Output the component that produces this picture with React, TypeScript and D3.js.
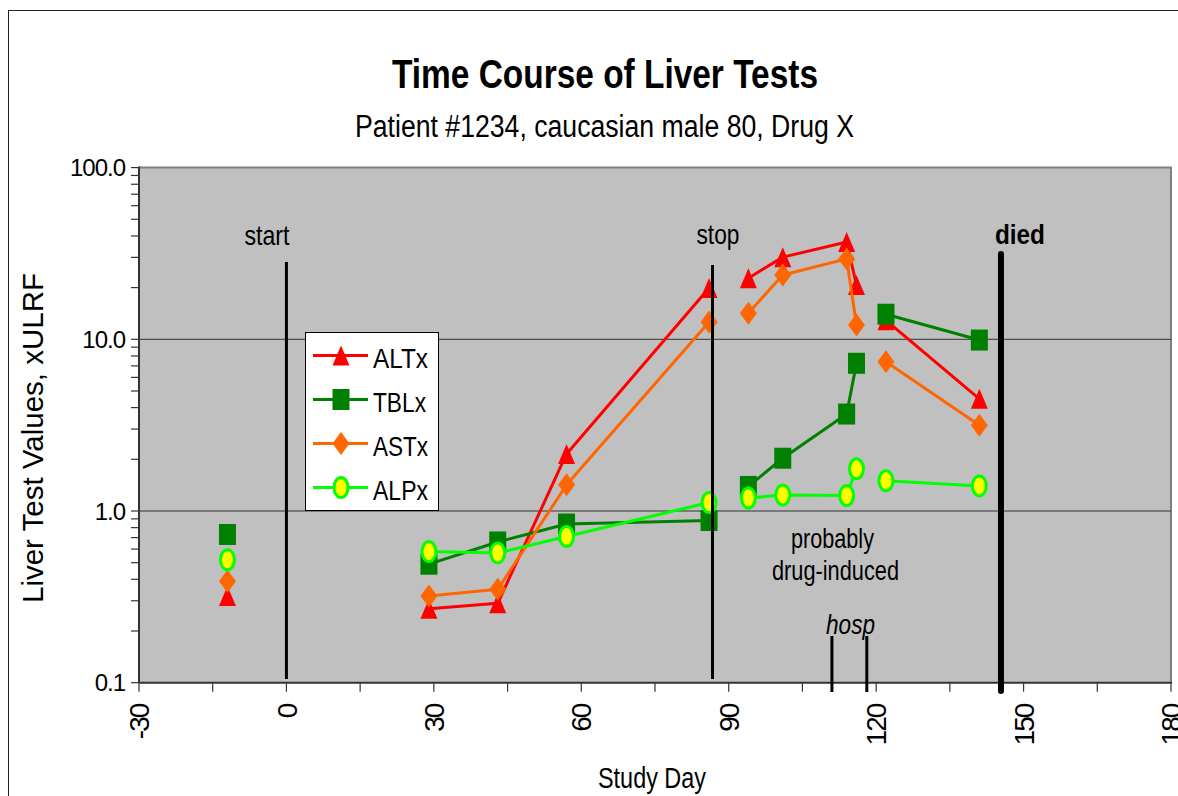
import { useEffect, useRef } from 'react';
import * as d3 from 'd3';

// study days of each blood draw, and which connected run of visits it belongs to
const studyDays = [-12, 29, 43, 57, 86, 94, 101, 114, 116, 122, 141];
const visitRuns = [0, 1, 1, 1, 1, 2, 2, 2, 2, 3, 3];

// values in multiples of the upper limit of the reference range
const altValues = [0.32, 0.27, 0.29, 2.15, 19.9, 22.7, 30.1, 36.9, 20.7, 12.9, 4.5];
const tblValues = [0.73, 0.49, 0.66, 0.84, 0.88, 1.39, 2.03, 3.67, 7.25, 14.0, 9.9];
const astValues = [0.39, 0.32, 0.35, 1.42, 12.6, 14.2, 23.7, 29.4, 12.1, 7.4, 3.16];
const alpValues = [0.52, 0.58, 0.57, 0.71, 1.12, 1.19, 1.24, 1.23, 1.76, 1.5, 1.4];

const seriesNames = ['ALTx', 'TBLx', 'ASTx', 'ALPx'];
const seriesValues = [altValues, tblValues, astValues, alpValues];

const eventNames = ['start', 'stop', 'died'];
const eventDays = [0, 86.7, 145.4];
const hospDays = [111, 118.1];

const xTickValues = [-30, 0, 30, 60, 90, 120, 150, 180];
const yTickValues = [0.1, 1, 10, 100];

const FONT = '"Liberation Sans", Arial, sans-serif';

const styles = [
  { color: '#ff0000', fill: '#ff0000', marker: 'triangle' },
  { color: '#008000', fill: '#008000', marker: 'square' },
  { color: '#ff6600', fill: '#ff6600', marker: 'diamond' },
  { color: '#00ff00', fill: '#ffff00', marker: 'ellipse' },
];

type G = d3.Selection<SVGGElement, unknown, null, undefined>;

function drawMarker(g: G, kind: string, cx: number, cy: number, color: string, fill: string) {
  if (kind === 'triangle') {
    g.append('path')
      .attr('d', `M${cx},${cy - 10}L${cx + 8.5},${cy + 10}L${cx - 8.5},${cy + 10}Z`)
      .attr('fill', fill);
  } else if (kind === 'square') {
    g.append('rect')
      .attr('x', cx - 8.5)
      .attr('y', cy - 10.5)
      .attr('width', 17)
      .attr('height', 21)
      .attr('fill', fill);
  } else if (kind === 'diamond') {
    g.append('path')
      .attr('d', `M${cx},${cy - 11.5}L${cx + 8.5},${cy}L${cx},${cy + 11.5}L${cx - 8.5},${cy}Z`)
      .attr('fill', fill);
  } else {
    g.append('ellipse')
      .attr('cx', cx)
      .attr('cy', cy)
      .attr('rx', 7)
      .attr('ry', 10)
      .attr('fill', fill)
      .attr('stroke', color)
      .attr('stroke-width', 3);
  }
}

function App() {
  const svgRef = useRef<SVGSVGElement | null>(null);
  const width = 1178;
  const height = 796;
  const margin = { top: 167.6, right: 7, bottom: 113.3, left: 139 };

  useEffect(() => {
    document.body.style.margin = '0';
    const svg = d3.select(svgRef.current);
    svg.selectAll('*').remove();

    const x = d3.scaleLinear().domain([-30, 180]).range([margin.left, width - margin.right]);
    const y = d3.scaleLog().domain([0.1, 100]).range([height - margin.bottom, margin.top]);
    const [x0, x1] = x.range();
    const [yb, yt] = y.range();

    // outer frame
    svg.append('rect')
      .attr('x', 8.5).attr('y', 10.5).attr('width', 1200).attr('height', 820)
      .attr('fill', '#fff').attr('stroke', '#222').attr('stroke-width', 1);

    // plot area
    svg.append('rect')
      .attr('x', x0).attr('y', yt).attr('width', x1 - x0).attr('height', yb - yt)
      .attr('fill', '#c0c0c0');
    svg.append('path')
      .attr('d', `M${x0},${yt}H${x1}V${yb}`)
      .attr('fill', 'none').attr('stroke', '#808080').attr('stroke-width', 2);

    // gridlines
    svg.append('g')
      .selectAll('line')
      .data(yTickValues.filter((v) => v > 0.1 && v < 100))
      .enter()
      .append('line')
      .attr('x1', x0).attr('x2', x1)
      .attr('y1', (v) => y(v)).attr('y2', (v) => y(v))
      .attr('stroke', '#333').attr('stroke-width', 1);

    // y axis
    const yAxis = svg.append('g').attr('transform', `translate(${x0},0)`);
    const minor = d3.range(-1, 2).flatMap((e) => d3.range(1, 10).map((m) => m * 10 ** e)).concat([100]);
    yAxis.selectAll('line.tk').data(minor).enter().append('line')
      .attr('x1', -8).attr('x2', 0)
      .attr('y1', (v) => y(v)).attr('y2', (v) => y(v))
      .attr('stroke', '#333').attr('stroke-width', 1.2);
    yAxis.append('line').attr('y1', yt - 1).attr('y2', yb).attr('stroke', '#333').attr('stroke-width', 2);
    yAxis.selectAll('text').data(yTickValues).enter().append('text')
      .attr('x', -14).attr('y', (v) => y(v)).attr('dy', '0.36em')
      .attr('text-anchor', 'end')
      .attr('font-family', FONT).attr('font-size', 24).attr('letter-spacing', -1)
      .text((v) => d3.format('.1f')(v));

    // x axis
    const xAxis = svg.append('g').attr('transform', `translate(0,${yb})`);
    xAxis.selectAll('line').data(d3.range(-30, 181, 15)).enter().append('line')
      .attr('x1', (d) => x(d)).attr('x2', (d) => x(d))
      .attr('y1', 0).attr('y2', 9)
      .attr('stroke', '#333').attr('stroke-width', 1.2);
    xAxis.append('line').attr('x1', x0).attr('x2', x1 + 1).attr('stroke', '#333').attr('stroke-width', 2);
    xAxis.selectAll('text').data(xTickValues).enter().append('text')
      .attr('transform', (d) => `translate(${x(d)},${22}) rotate(-90)`)
      .attr('dy', '0.36em')
      .attr('text-anchor', 'end')
      .attr('font-family', FONT).attr('font-size', 28).attr('letter-spacing', -2)
      .text((d) => String(d));

    // series: line per connected run, then markers
    seriesValues.forEach((values, si) => {
      const st = styles[si];
      const g = svg.append('g');
      const pts = studyDays.map((d, i) => ({ d, v: values[i], run: visitRuns[i] }));
      const line = d3.line<{ d: number; v: number }>().x((p) => x(p.d)).y((p) => y(p.v));
      d3.groups(pts, (p) => p.run).forEach(([, run]) => {
        if (run.length < 2) return;
        g.append('path').attr('d', line(run)).attr('fill', 'none')
          .attr('stroke', st.color).attr('stroke-width', 3).attr('stroke-linejoin', 'round');
      });
      pts.forEach((p) => drawMarker(g, st.marker, x(p.d), y(p.v), st.color, st.fill));
    });

    // event lines
    const ev = svg.append('g').attr('stroke', '#000');
    ev.append('line').attr('x1', x(eventDays[0])).attr('x2', x(eventDays[0])).attr('y1', 262).attr('y2', 679).attr('stroke-width', 3);
    ev.append('line').attr('x1', x(eventDays[1])).attr('x2', x(eventDays[1])).attr('y1', 265).attr('y2', 679).attr('stroke-width', 3);
    ev.append('line').attr('x1', x(eventDays[2])).attr('x2', x(eventDays[2])).attr('y1', 254).attr('y2', 691)
      .attr('stroke-width', 6).attr('stroke-linecap', 'round');
    hospDays.forEach((d) => {
      ev.append('line').attr('x1', x(d)).attr('x2', x(d)).attr('y1', 636).attr('y2', 692).attr('stroke-width', 3);
    });

    const txt = (s: string, tx: number, ty: number, size: number, len: number, extra: Record<string, string> = {}) => {
      const t = svg.append('text')
        .attr('x', tx).attr('y', ty)
        .attr('font-family', FONT).attr('font-size', size)
        .attr('textLength', len).attr('lengthAdjust', 'spacingAndGlyphs')
        .text(s);
      Object.entries(extra).forEach(([k, v]) => t.attr(k, v));
      return t;
    };

    txt(eventNames[0], x(eventDays[0]) - 42, 245, 28, 45);
    txt(eventNames[1], x(eventDays[1]) - 16, 244, 28, 43);
    txt(eventNames[2], x(eventDays[2]) - 6, 244, 28, 50, { 'font-weight': 'bold' });
    txt('probably', 791, 548, 27, 83);
    txt('drug-induced', 772, 580, 27, 127);
    txt('hosp', 826, 634, 27, 49, { 'font-style': 'italic' });

    // titles
    txt('Time Course of Liver Tests', 392, 88, 40, 426, { 'font-weight': 'bold' });
    txt('Patient #1234, caucasian male 80, Drug X', 355, 137, 31, 499);
    txt('Study Day', 598, 788, 30, 108);
    svg.append('text')
      .attr('transform', 'translate(43,438) rotate(-90)')
      .attr('text-anchor', 'middle')
      .attr('font-family', FONT).attr('font-size', 29)
      .attr('textLength', 330).attr('lengthAdjust', 'spacingAndGlyphs')
      .text('Liver Test Values, xULRF');

    // legend
    const lg = svg.append('g');
    lg.append('rect').attr('x', 305.5).attr('y', 332.5).attr('width', 133).attr('height', 178)
      .attr('fill', '#fff').attr('stroke', '#000').attr('stroke-width', 1);
    seriesNames.forEach((name, i) => {
      const cy = 355.5 + i * 44;
      const st = styles[i];
      lg.append('line').attr('x1', 313).attr('x2', 368).attr('y1', cy).attr('y2', cy)
        .attr('stroke', st.color).attr('stroke-width', 3);
      drawMarker(lg as unknown as G, st.marker, 341, cy, st.color, st.fill);
      lg.append('text').attr('x', 373).attr('y', cy + 12)
        .attr('font-family', FONT).attr('font-size', 28)
        .attr('textLength', name === 'TBLx' ? 53 : 55).attr('lengthAdjust', 'spacingAndGlyphs')
        .text(name);
    });
  }, []);

  return <svg ref={svgRef} width={width} height={height} style={{ display: 'block' }} />;
}

export default App;
